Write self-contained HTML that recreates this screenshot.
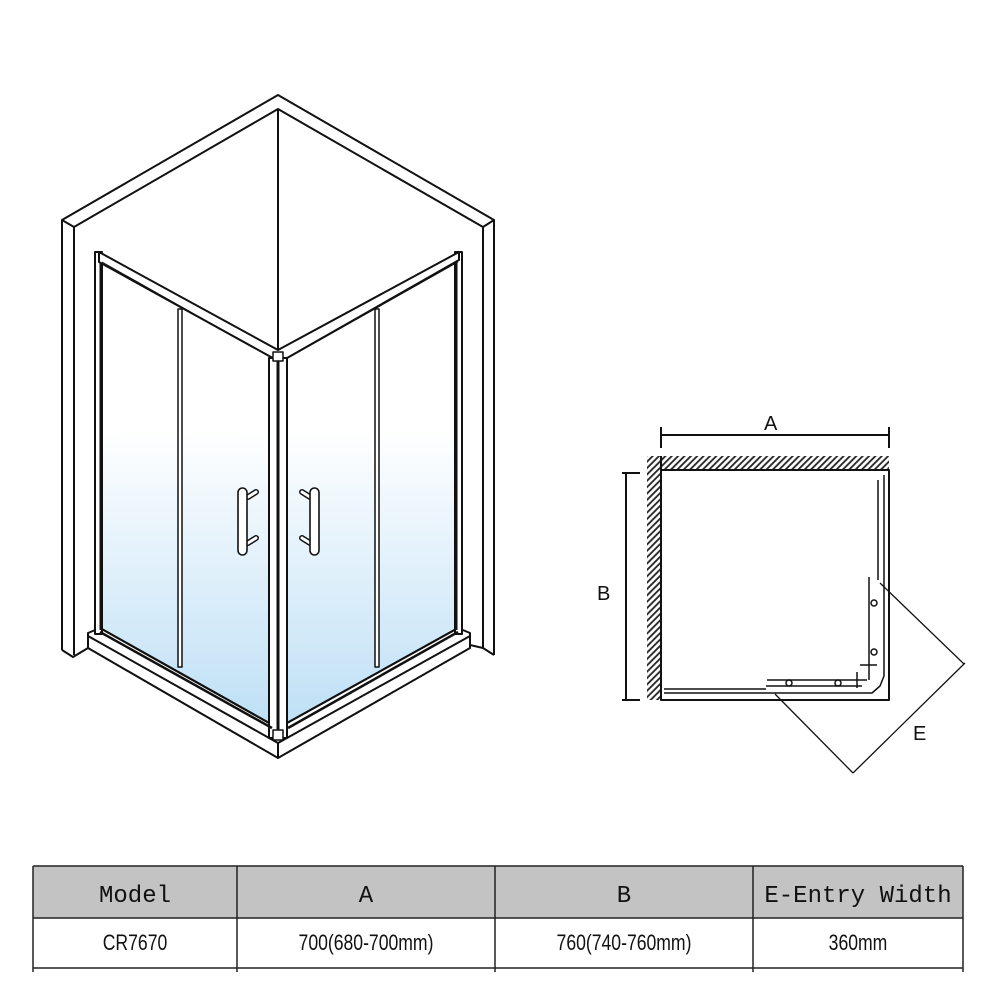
<!DOCTYPE html>
<html><head><meta charset="utf-8"><style>
body{margin:0;background:#fff;}
svg{display:block}
.t{font-family:"Liberation Mono","Noto Serif CJK SC",monospace;font-size:24px;}
.d{font-family:"Liberation Sans",sans-serif;font-size:22px;}
</style></head><body>
<svg width="1001" height="1001" viewBox="0 0 1001 1001" xmlns="http://www.w3.org/2000/svg">
<defs>
<linearGradient id="g" gradientUnits="userSpaceOnUse" x1="0" y1="430" x2="0" y2="720">
<stop offset="0" stop-color="#ffffff"/><stop offset="1" stop-color="#bfe0f6"/></linearGradient>
<pattern id="h" width="4.5" height="4.5" patternUnits="userSpaceOnUse" patternTransform="rotate(45)">
<rect width="4.5" height="4.5" fill="#fff"/><line x1="1" y1="0" x2="1" y2="4.5" stroke="#222" stroke-width="1.8"/></pattern>
</defs>
<g fill="none" stroke="#111" stroke-width="2" stroke-linejoin="round">
<!-- walls -->
<polyline points="62,650 62,220 278,95 494,220 494,655"/>
<polyline points="74,655 74,227 278,109 483,227 483,648"/>
<line x1="62" y1="220" x2="74" y2="227"/><line x1="494" y1="220" x2="483" y2="227"/>
<line x1="278" y1="109" x2="278" y2="355"/>
<polyline points="62,650 73,657 88,648"/>
<polyline points="494,655 483,648 470,645"/>
<!-- glass -->
<polygon points="100,258 272,360 272,728 100,632" fill="url(#g)" stroke="none"/>
<polygon points="288,360 458,258 458,632 288,728" fill="url(#g)" stroke="none"/>
<!-- tray -->
<polygon points="88,633 100,628 278,728 458,628 470,633 470,648 278,758 88,648" fill="#fff"/>
<polyline points="88,636 278,743 470,636"/>
<polyline points="100,628 278,728 458,628"/>
<line x1="278" y1="743" x2="278" y2="758"/>
<!-- frames -->
<rect x="95" y="252" width="7" height="382" fill="#fff"/>
<line x1="101" y1="256" x2="101" y2="630" stroke-width="3"/>
<rect x="455" y="252" width="7" height="382" fill="#fff"/>
<line x1="456" y1="256" x2="456" y2="630" stroke-width="3"/>
<polygon points="99,252 278,350 459,252 459,260 280,362 99,262" fill="#fff"/>
<line x1="102" y1="262" x2="272" y2="358" stroke-width="1"/>
<line x1="458" y1="262" x2="288" y2="358" stroke-width="1"/>
<rect x="269" y="358" width="9" height="380" fill="#fff"/>
<rect x="278" y="358" width="9" height="380" fill="#fff"/>
<line x1="278" y1="358" x2="278" y2="738" stroke-width="3"/>
<rect x="273" y="352" width="10" height="9" fill="#fff" stroke-width="1.5"/>
<rect x="273" y="730" width="10" height="10" fill="#fff" stroke-width="1.5"/>
<!-- dividers -->
<rect x="178" y="309" width="4" height="358" fill="#fff" stroke-width="1.5"/>
<rect x="375" y="309" width="4" height="358" fill="#fff" stroke-width="1.5"/>
<line x1="100" y1="632" x2="272" y2="728" stroke-width="2.5"/>
<line x1="288" y1="728" x2="458" y2="632" stroke-width="2.5"/>
<!-- handles -->
<g stroke-width="1.6" fill="#fff">
<line x1="248" y1="497" x2="256" y2="492" stroke-width="6" stroke-linecap="round" stroke="#111"/>
<line x1="248" y1="497" x2="256" y2="492" stroke-width="3" stroke-linecap="round" stroke="#fff"/>
<line x1="248" y1="543" x2="256" y2="538" stroke-width="6" stroke-linecap="round" stroke="#111"/>
<line x1="248" y1="543" x2="256" y2="538" stroke-width="3" stroke-linecap="round" stroke="#fff"/>
<rect x="238" y="488" width="9" height="67" rx="4.5"/>
<line x1="310" y1="497" x2="302" y2="492" stroke-width="6" stroke-linecap="round" stroke="#111"/>
<line x1="310" y1="497" x2="302" y2="492" stroke-width="3" stroke-linecap="round" stroke="#fff"/>
<line x1="310" y1="543" x2="302" y2="538" stroke-width="6" stroke-linecap="round" stroke="#111"/>
<line x1="310" y1="543" x2="302" y2="538" stroke-width="3" stroke-linecap="round" stroke="#fff"/>
<rect x="310" y="488" width="9" height="67" rx="4.5"/>
</g>
<!-- plan -->
<rect x="647" y="456" width="242" height="14" fill="url(#h)" stroke="none"/>
<rect x="647" y="456" width="14" height="244" fill="url(#h)" stroke="none"/>
<rect x="661" y="470" width="228" height="230"/>
<line x1="661" y1="456" x2="661" y2="470"/>
<line x1="661" y1="435" x2="889" y2="435"/>
<line x1="661" y1="427" x2="661" y2="448"/><line x1="889" y1="427" x2="889" y2="448"/>
<line x1="626" y1="473" x2="626" y2="700"/>
<line x1="622" y1="473" x2="640" y2="473"/><line x1="622" y1="700" x2="640" y2="700"/>
<g stroke-width="1.5">
<polyline points="664,689 766,689"/><polyline points="664,693 872,693 880,686 884,676 884,475"/>
<line x1="766" y1="686" x2="862" y2="686"/>
<line x1="878" y1="480" x2="878" y2="580"/>
<line x1="869" y1="577" x2="869" y2="680"/>
<line x1="767" y1="680" x2="867" y2="680"/>
<circle cx="789" cy="683" r="3"/><circle cx="838" cy="683" r="3"/>
<circle cx="874" cy="603" r="3"/><circle cx="874" cy="652" r="3"/>
<line x1="860" y1="665" x2="877" y2="665"/><line x1="857" y1="672" x2="857" y2="688"/>
</g>
<g stroke-width="1.3">
<line x1="880" y1="583" x2="964" y2="664"/>
<line x1="775" y1="694" x2="853" y2="773"/>
<line x1="853" y1="773" x2="965" y2="663"/>
</g>
</g>
<g font-family="Liberation Sans,sans-serif" font-size="20" fill="#111">
<text x="764" y="430">A</text><text x="597" y="600">B</text><text x="913" y="740">E</text>
</g>
<!-- table -->
<rect x="33" y="866" width="930" height="52" fill="#c3c3c3"/>
<g stroke="#222" stroke-width="1.5">
<line x1="33" y1="866" x2="963" y2="866"/><line x1="33" y1="918" x2="963" y2="918"/><line x1="33" y1="968" x2="963" y2="968"/>
<line x1="33" y1="866" x2="33" y2="972"/><line x1="237" y1="866" x2="237" y2="972"/>
<line x1="495" y1="866" x2="495" y2="972"/><line x1="753" y1="866" x2="753" y2="972"/><line x1="963" y1="866" x2="963" y2="972"/>
</g>
<g class="t" text-anchor="middle" fill="#111">
<text x="135" y="902">Model</text><text x="366" y="902">A</text><text x="624" y="902">B</text><text x="858" y="902">E-Entry Width</text>
</g>
<g class="d" text-anchor="middle" fill="#111">
<text x="135" y="950" transform="translate(135 0) scale(0.8 1) translate(-135 0)">CR7670</text>
<text x="366" y="950" transform="translate(366 0) scale(0.8 1) translate(-366 0)">700(680-700mm)</text>
<text x="624" y="950" transform="translate(624 0) scale(0.8 1) translate(-624 0)">760(740-760mm)</text>
<text x="858" y="950" transform="translate(858 0) scale(0.8 1) translate(-858 0)">360mm</text>
</g>
</svg>
</body></html>
